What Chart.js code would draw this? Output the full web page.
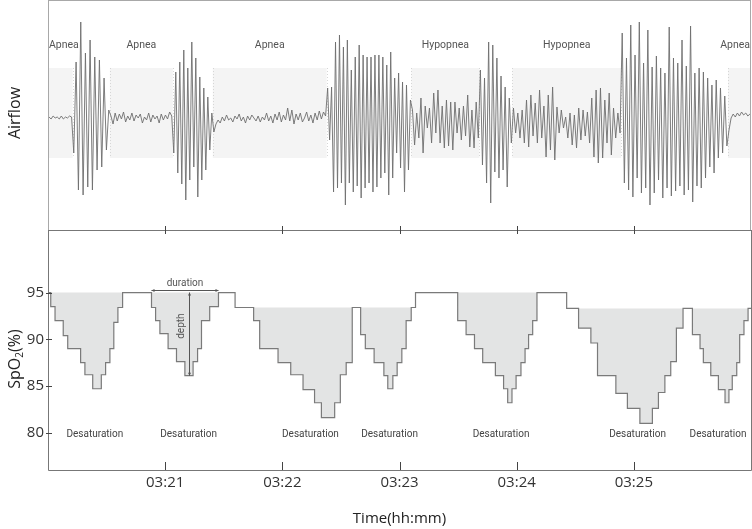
<!DOCTYPE html>
<html>
<head>
<meta charset="utf-8">
<script src="https://cdn.jsdelivr.net/npm/chart.js@4.4.1/dist/chart.umd.min.js"></script>
<style>
  html, body { margin: 0; padding: 0; background: #ffffff; }
  #wrap { position: relative; width: 752px; height: 529px; overflow: hidden; }
  #topChart { position: absolute; left: 0; top: 0; }
  #botChart { position: absolute; left: 0; top: 229px; }
</style>
</head>
<body>
<div id="wrap">
  <canvas id="topChart" width="752" height="232"></canvas>
  <canvas id="botChart" width="752" height="300"></canvas>
</div>
<script>
// ---------------- DATA ----------------
// time axis: seconds after 03:20:00
const timeMin = 0;
const timeMax = 360;
const timeTicks = [60, 120, 180, 240, 300];
const timeTickLabels = ['03:21', '03:22', '03:23', '03:24', '03:25'];

// respiratory events (top panel)
const eventNames = ['Apnea', 'Apnea', 'Apnea', 'Hypopnea', 'Hypopnea', 'Apnea'];
const eventStart = [0, 31.7, 84.4, 186.1, 237.8, 348.2];
const eventEnd = [12.6, 63.9, 142.7, 220.9, 293.5, 360];
const eventBandTop = 50;
const eventBandBottom = -40;

// airflow signal, stored as consecutive recording segments
const airflowSegTimes = [0, 12.6, 31.7, 63.9, 84.4, 142.7, 186.1, 220.9, 237.8, 293.5, 348.2, 360];
const airflowApnea1 = [1, -1, 2, 0, 1, -1, 2, -1, 1, 0, 2, 1];
const airflowBurst1 = [-35, 56, -72, 96, -77, 65, -69, 78, -72, 61, -52, 58, -49, 40, -32, 8];
const airflowApnea2 = [2, -6, 5, -3, 4, -1, 6, -4, 2, -2, 5, -3, 3, 0, 4, -5, 1, -2, 5, -4, 3, -1, 2, -5, 4, -2, 3, -1, 6, 2];
const airflowBurst2 = [-35, 46, -55, 56, -66, 68, -82, 50, -62, 76, -49, 60, -79, 41, -62, 30, -52, 21, -32, 5];
const airflowApnea3 = [-14, -6, -2, -5, 1, -3, 3, -2, 0, -4, 2, -1, 4, -3, 1, -5, 2, -2, 3, 0, -3, 2, -4, 1, -2, 5, -3, 2, -5, 4, -2, 6, -4, 3, -2, 10, -3, 8, -6, 4, -2, 5, -4, 0, 6, -3, 3, -5, 5, -2, 7, -1, 6, 2];
const airflowBurst3 = [30, -22, 31, -74, 76, -70, 83, -65, 71, -87, 78, -65, 48, -74, 61, -68, 73, -80, 63, -70, 61, -65, 61, -74, 63, -69, 63, -60, 61, -55, 53, -77, 66, -60, 40, -35, 45, -50, 36, -74, 33, -52, 18];
const airflowHypopnea1 = [8, -27, 5, -20, 20, -35, 12, -10, 10, -25, 25, -15, 28, -25, 12, -30, 18, -28, 16, -32, 16, -15, 10, -22, 12, -18, 23, -29, 8, -30, 16, -20];
const airflowBurst4 = [48, -47, 40, -65, 76, -85, 73, -54, 60, -60, 42, -52, 31, -69, 20, -25];
const airflowHypopnea2 = [10, -15, 5, -20, 8, -25, 18, -29, 23, -18, 15, -25, 28, -20, 12, -39, 23, -32, 31, -42, 11, -15, 8, -10, 1, -20, 5, -27, 3, -30, 10, -22, 8, -18, 6, -25, 20, -39, 28, -45, 30, -40, 18, -25, 25, -37, 10, -20, 5, -15];
const airflowBurst5 = [85, -65, 60, -72, 93, -79, 63, -60, 96, -75, 55, -70, 88, -87, 51, -75, 62, -62, 50, -80, 45, -70, 91, -78, 60, -73, 55, -68, 78, -77, 52, -72, 92, -84, 45, -68, 50, -70, 46, -60, 40, -49, 33, -55, 38, -40, 30, -35, 22, -28];
const airflowApnea4 = [-12, 0, 4, 1, 5, 2, 6, 3, 5, 2, 4];
const airflowMin = -112;
const airflowMax = 118;

// SpO2 step signal: change points (time s, value %)
const spo2Time = [0, 1.4, 3.6, 7.8, 10.1, 16.7, 18.9, 22.9, 27.3, 29.5, 31.7, 33.7, 35.8, 38.2,
  53.0, 55.1, 57.3, 61.5, 65.8, 70.1, 74.3, 76.6, 78.6, 82.8, 87.3,
  95.8, 105.3, 108.4, 117.8, 124.3, 130.6, 136.5, 140.0, 146.8, 149.7, 152.7, 155.8,
  160.1, 162.5, 167.0, 172.0, 174.0, 176.6, 178.8, 181.2, 183.4, 186.0, 188.2,
  209.8, 214.1, 218.4, 222.6, 229.1, 233.3, 235.4, 237.6, 239.7, 242.2, 244.3, 246.1, 248.2, 250.4,
  265.6, 271.7, 278.0, 281.4, 290.8, 296.7, 303.1, 309.5, 312.6, 315.9, 318.9, 321.8, 325.2,
  330.0, 333.9, 335.6, 339.4, 343.3, 346.7, 348.7, 350.4, 352.7, 354.2, 356.4, 358.5, 360];
const spo2Value = [95, 93.5, 92.0, 90.4, 89.0, 87.5, 86.2, 84.7, 86.2, 87.5, 89.0, 91.8, 93.4, 95,
  93.4, 92.0, 90.6, 89.0, 87.6, 86.1, 87.6, 89.0, 92.0, 93.5, 95,
  93.4, 92.0, 89.0, 87.5, 86.2, 84.6, 83.2, 81.6, 83.2, 86.2, 87.5, 93.4,
  90.5, 89.0, 87.5, 86.1, 84.7, 86.1, 87.5, 89.0, 92.0, 93.4, 95,
  92.0, 90.5, 89.0, 87.5, 86.1, 84.7, 83.2, 84.7, 86.1, 87.5, 89.0, 90.5, 92.0, 95,
  93.3, 91.2, 89.6, 86.1, 84.2, 82.6, 81.0, 82.6, 84.3, 86.1, 87.6, 91.2, 93.3,
  90.5, 89.0, 87.5, 86.1, 84.6, 83.2, 84.6, 86.1, 87.5, 90.5, 92.0, 93.3, 93.3];
const spo2Min = 76;
const spo2Max = 101.7;
const spo2Ticks = [80, 85, 90, 95];

// desaturation events
const desatStart = [1.4, 53.0, 105.3, 160.1, 209.8, 271.7, 330.0];
const desatEnd = [38.2, 87.3, 155.8, 186.0, 250.4, 325.2, 358.5];
const desatBaseline = [95, 95, 93.4, 93.4, 95, 93.3, 93.3];
const desatLabelTime = [24.0, 72.0, 134.4, 174.9, 232.0, 301.9, 343.1];
const desatLabelValue = 79.75;
const annotatedDesat = 1; // event used to show "duration" and "depth"

// ---------------- BUILD SERIES ----------------
const airflowSegments = [airflowApnea1, airflowBurst1, airflowApnea2, airflowBurst2, airflowApnea3,
  airflowBurst3, airflowHypopnea1, airflowBurst4, airflowHypopnea2, airflowBurst5, airflowApnea4];
const airflowPoints = [];
airflowSegments.forEach((seg, k) => {
  const t0 = airflowSegTimes[k], t1 = airflowSegTimes[k + 1];
  const dt = (t1 - t0) / seg.length;
  seg.forEach((v, i) => airflowPoints.push({ x: t0 + (i + 0.5) * dt, y: v }));
});

const spo2Points = spo2Time.map((t, i) => ({ x: t, y: spo2Value[i] }));
const desatDatasets = desatStart.map((s, k) => ({
  label: 'desat' + k,
  data: spo2Points.filter(p => p.x >= s - 1e-6 && p.x <= desatEnd[k] + 1e-6),
  stepped: true,
  fill: { value: desatBaseline[k] },
  backgroundColor: '#e3e4e4',
  borderWidth: 0,
  pointRadius: 0,
  order: 2
}));

const FONT = '"Open Sans", "Noto Sans", sans-serif';
const SMALL = 'Roboto, "Open Sans", sans-serif';

// ---------------- TOP PANEL ----------------
const topDecor = {
  id: 'topDecor',
  beforeDatasetsDraw(chart) {
    const { ctx, chartArea: a, scales: { x, y } } = chart;
    ctx.save();
    const yt = y.getPixelForValue(eventBandTop), yb = y.getPixelForValue(eventBandBottom);
    for (let i = 0; i < eventStart.length; i++) {
      const x0 = x.getPixelForValue(eventStart[i]);
      const x1 = x.getPixelForValue(eventEnd[i]);
      ctx.fillStyle = '#f4f4f4';
      ctx.fillRect(x0, yt, x1 - x0, yb - yt);
      ctx.strokeStyle = '#d6d6d6';
      ctx.lineWidth = 1;
      ctx.setLineDash([1, 2]);
      [x0, x1].forEach(px => {
        if (px > a.left + 2 && px < a.right - 2) {
          ctx.beginPath();
          ctx.moveTo(Math.round(px) + 0.5, yt);
          ctx.lineTo(Math.round(px) + 0.5, yb);
          ctx.stroke();
        }
      });
      ctx.setLineDash([]);
    }
    ctx.restore();
  },
  afterDatasetsDraw(chart) {
    const { ctx, chartArea: a, scales: { x, y } } = chart;
    ctx.save();
    // event labels
    ctx.font = '10.5px ' + SMALL;
    ctx.fillStyle = '#555';
    ctx.textAlign = 'center';
    ctx.textBaseline = 'middle';
    const ly = y.getPixelForValue(eventBandTop) - 23;
    for (let i = 0; i < eventNames.length; i++) {
      const w = ctx.measureText(eventNames[i]).width;
      let cx = (x.getPixelForValue(eventStart[i]) + x.getPixelForValue(eventEnd[i])) / 2;
      cx = Math.max(a.left + 1 + w / 2, Math.min(a.right - 1 - w / 2, cx));
      ctx.fillText(eventNames[i], cx, ly);
    }
    // frame
    ctx.strokeStyle = '#a8a8a8';
    ctx.lineWidth = 1;
    ctx.strokeRect(a.left + 0.5, a.top + 0.5, a.right - a.left - 1, a.bottom - a.top);
    // ticks on bottom edge
    ctx.strokeStyle = '#444';
    timeTicks.forEach(t => {
      const px = Math.round(x.getPixelForValue(t)) + 0.5;
      ctx.beginPath();
      ctx.moveTo(px, a.bottom);
      ctx.lineTo(px, a.bottom - 4);
      ctx.stroke();
    });
    // axis title
    ctx.translate(15, (a.top + a.bottom) / 2 - 2);
    ctx.rotate(-Math.PI / 2);
    ctx.font = '16px ' + FONT;
    ctx.fillStyle = '#222';
    ctx.textAlign = 'center';
    ctx.textBaseline = 'middle';
    ctx.fillText('Airflow', 0, 0);
    ctx.restore();
  }
};

new Chart(document.getElementById('topChart'), {
  type: 'line',
  data: {
    datasets: [{
      data: airflowPoints,
      borderColor: '#6e6e6e',
      borderWidth: 0.9,
      pointRadius: 0,
      tension: 0,
      fill: false
    }]
  },
  options: {
    responsive: false,
    animation: false,
    events: [],
    layout: { padding: { left: 48, right: 1, top: 0, bottom: 2 } },
    plugins: { legend: { display: false }, tooltip: { enabled: false } },
    scales: {
      x: { type: 'linear', min: timeMin, max: timeMax, display: false },
      y: { type: 'linear', min: airflowMin, max: airflowMax, display: false }
    }
  },
  plugins: [topDecor]
});

// ---------------- BOTTOM PANEL ----------------
const botDecor = {
  id: 'botDecor',
  afterDatasetsDraw(chart) {
    const { ctx, chartArea: a, scales: { x, y } } = chart;
    ctx.save();
    // frame
    ctx.strokeStyle = '#777';
    ctx.lineWidth = 1;
    ctx.beginPath();
    ctx.moveTo(a.left + 0.5, a.top + 0.5);
    ctx.lineTo(a.right + 0.5, a.top + 0.5);
    ctx.moveTo(a.left + 0.5, a.top);
    ctx.lineTo(a.left + 0.5, a.bottom + 0.5);
    ctx.lineTo(a.right + 0.5, a.bottom + 0.5);
    ctx.moveTo(a.right + 0.5, a.top);
    ctx.lineTo(a.right + 0.5, a.bottom + 0.5);
    ctx.stroke();
    // ticks
    ctx.strokeStyle = '#444';
    timeTicks.forEach(t => {
      const px = Math.round(x.getPixelForValue(t)) + 0.5;
      ctx.beginPath();
      ctx.moveTo(px, a.top);
      ctx.lineTo(px, a.top + 4);
      ctx.moveTo(px, a.bottom);
      ctx.lineTo(px, a.bottom - 8);
      ctx.stroke();
    });
    spo2Ticks.forEach(v => {
      const py = Math.round(y.getPixelForValue(v)) + 0.5;
      ctx.beginPath();
      ctx.moveTo(a.left - 2, py);
      ctx.lineTo(a.left + 4, py);
      ctx.stroke();
    });
    // desaturation labels
    ctx.font = '10px ' + SMALL;
    ctx.fillStyle = '#444';
    ctx.textAlign = 'center';
    ctx.textBaseline = 'middle';
    desatLabelTime.forEach(t => {
      ctx.fillText('Desaturation', x.getPixelForValue(t), y.getPixelForValue(desatLabelValue));
    });
    // duration / depth annotation
    const k = annotatedDesat;
    const evVals = spo2Points.filter(p => p.x >= desatStart[k] && p.x <= desatEnd[k]).map(p => p.y);
    const nadir = Math.min(...evVals);
    const nadirIdx = spo2Points.findIndex(p => p.x >= desatStart[k] && p.y === nadir);
    const nadirMid = (spo2Points[nadirIdx].x + spo2Points[nadirIdx + 1].x) / 2;
    const xs = x.getPixelForValue(desatStart[k]);
    const xe = x.getPixelForValue(desatEnd[k]);
    const yb = y.getPixelForValue(desatBaseline[k]);
    const yd = y.getPixelForValue(nadir);
    const xd = Math.round(x.getPixelForValue(nadirMid)) + 0.5;
    ctx.strokeStyle = '#555';
    ctx.fillStyle = '#555';
    const ay = Math.round(yb - 3) + 0.5;
    ctx.beginPath();
    ctx.moveTo(xs, ay); ctx.lineTo(xe, ay);
    ctx.moveTo(xd, yb); ctx.lineTo(xd, yd);
    ctx.stroke();
    const head = (px, py, dx, dy) => {
      ctx.beginPath();
      ctx.moveTo(px, py);
      ctx.lineTo(px - dx * 3 - dy * 1.5, py - dy * 3 - dx * 1.5);
      ctx.lineTo(px - dx * 3 + dy * 1.5, py - dy * 3 + dx * 1.5);
      ctx.closePath();
      ctx.fill();
    };
    head(xs, ay, -1, 0); head(xe, ay, 1, 0);
    head(xd, yb, 0, -1); head(xd, yd, 0, 1);
    ctx.font = '10px ' + SMALL;
    ctx.fillStyle = '#555';
    ctx.fillText('duration', (xs + xe) / 2, ay - 7);
    ctx.save();
    ctx.translate(xd - 8, (yb + yd) / 2 - 8);
    ctx.rotate(-Math.PI / 2);
    ctx.fillText('depth', 0, 0);
    ctx.restore();
    // y axis title SpO2(%)
    ctx.translate(15, (a.top + a.bottom) / 2 + 9);
    ctx.rotate(-Math.PI / 2);
    ctx.fillStyle = '#222';
    ctx.textBaseline = 'middle';
    ctx.textAlign = 'left';
    const big = '16px ' + FONT, sub = '10px ' + FONT;
    ctx.font = big; const w1 = ctx.measureText('SpO').width; const w3 = ctx.measureText('(%)').width;
    ctx.font = sub; const w2 = ctx.measureText('2').width;
    let sx = -(w1 + w2 + w3) / 2;
    ctx.font = big; ctx.fillText('SpO', sx, 0); sx += w1;
    ctx.font = sub; ctx.fillText('2', sx, 5); sx += w2;
    ctx.font = big; ctx.fillText('(%)', sx, 0);
    ctx.restore();
  }
};

new Chart(document.getElementById('botChart'), {
  type: 'line',
  data: {
    datasets: [{
      label: 'SpO2',
      data: spo2Points,
      stepped: true,
      borderColor: '#7a7a7a',
      borderWidth: 1.2,
      pointRadius: 0,
      fill: false,
      order: 0
    }, ...desatDatasets]
  },
  options: {
    responsive: false,
    animation: false,
    events: [],
    layout: { padding: { left: 0, right: 1, top: 1, bottom: 0 } },
    plugins: { legend: { display: false }, tooltip: { enabled: false } },
    scales: {
      x: {
        type: 'linear', min: timeMin, max: timeMax,
        afterFit: s => { s.height = 59; s.paddingLeft = 0; s.paddingRight = 0; },
        afterBuildTicks: s => { s.ticks = timeTicks.map(v => ({ value: v })); },
        grid: { display: false, drawTicks: false },
        border: { display: false },
        ticks: {
          autoSkip: false, maxRotation: 0, padding: 4,
          color: '#333', font: { family: FONT, size: 15 },
          callback: v => timeTickLabels[timeTicks.indexOf(v)]
        },
        title: {
          display: true, text: 'Time(hh:mm)', color: '#222',
          font: { family: FONT, size: 15 }, padding: { top: 0, bottom: 1 }
        }
      },
      y: {
        type: 'linear', min: spo2Min, max: spo2Max,
        afterFit: s => { s.width = 48; s.paddingTop = 0; s.paddingBottom = 0; },
        afterBuildTicks: s => { s.ticks = spo2Ticks.map(v => ({ value: v })); },
        grid: { display: false, drawTicks: false },
        border: { display: false },
        ticks: { padding: 4, color: '#333', font: { family: FONT, size: 15 } }
      }
    }
  },
  plugins: [botDecor]
});
</script>
</body>
</html>
